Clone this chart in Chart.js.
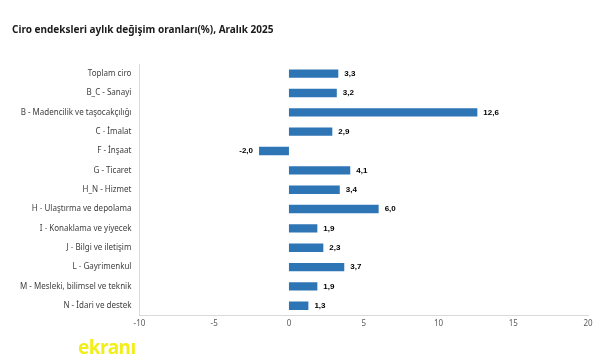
<!DOCTYPE html>
<html>
<head>
<meta charset="utf-8">
<script src="https://cdn.jsdelivr.net/npm/chart.js@4"></script>
<style>
  html, body { margin: 0; padding: 0; background: #fff; }
  #wrap { position: relative; width: 601px; height: 363px; }
  #logo { position: absolute; left: 78px; top: 338px; font: bold 19px 'Noto Sans', sans-serif; color: #f2ee1a; letter-spacing: -0.5px; line-height: 1; }
</style>
</head>
<body>
<div id="wrap">
  <canvas id="chart" width="601" height="363"></canvas>
  <div id="logo">ekranı</div>
</div>
<script>
const categories = [
  'Toplam ciro',
  'B_C - Sanayi',
  'B - Madencilik ve taşocakçılığı',
  'C - İmalat',
  'F - İnşaat',
  'G - Ticaret',
  'H_N - Hizmet',
  'H - Ulaştırma ve depolama',
  'I - Konaklama ve yiyecek',
  'J - Bilgi ve iletişim',
  'L - Gayrimenkul',
  'M - Mesleki, bilimsel ve teknik',
  'N - İdari ve destek'
];
const values = [3.3, 3.2, 12.6, 2.9, -2.0, 4.1, 3.4, 6.0, 1.9, 2.3, 3.7, 1.9, 1.3];
const xMin = -10;
const xMax = 20;
const xStep = 5;

// draws the value next to each bar, comma as decimal mark
const valueLabels = {
  id: 'valueLabels',
  afterDatasetsDraw(chart) {
    const ctx = chart.ctx;
    const meta = chart.getDatasetMeta(0);
    ctx.save();
    ctx.font = 'bold 8px "Liberation Sans", Arial, sans-serif';
    ctx.fillStyle = '#000';
    ctx.textBaseline = 'middle';
    meta.data.forEach((bar, i) => {
      const v = values[i];
      const txt = v.toFixed(1).replace('.', ',');
      if (v >= 0) {
        ctx.textAlign = 'left';
        ctx.fillText(txt, bar.x + 6, bar.y);
      } else {
        ctx.textAlign = 'right';
        ctx.fillText(txt, bar.x - 6, bar.y);
      }
    });
    ctx.restore();
  }
};

new Chart(document.getElementById('chart'), {
  type: 'bar',
  data: {
    labels: categories,
    datasets: [{
      data: values,
      backgroundColor: '#2e75b6',
      barPercentage: 0.6,
      categoryPercentage: 0.72
    }]
  },
  options: {
    indexAxis: 'y',
    responsive: false,
    animation: false,
    layout: { padding: { left: 12, right: 13, top: 0, bottom: 30 } },
    plugins: {
      legend: { display: false },
      tooltip: { enabled: false },
      title: {
        display: true,
        text: 'Ciro endeksleri aylık değişim oranları(%), Aralık 2025',
        align: 'start',
        color: '#1a1a1a',
        font: { family: "'Noto Sans', sans-serif", size: 10, weight: 'bold' },
        padding: { top: 24, bottom: 28 }
      }
    },
    scales: {
      x: {
        min: xMin,
        max: xMax,
        ticks: {
          stepSize: xStep,
          color: '#595959',
          font: { family: "'Noto Sans', sans-serif", size: 8 },
          padding: 4
        },
        grid: { display: false, drawTicks: false },
        border: { display: true, color: '#d9d9d9' }
      },
      y: {
        ticks: {
          color: '#404040',
          font: { family: "'Noto Sans', sans-serif", size: 8 },
          padding: 8,
          autoSkip: false
        },
        grid: { display: false, drawTicks: false },
        border: { display: true, color: '#d9d9d9' }
      }
    }
  },
  plugins: [valueLabels]
});
</script>
</body>
</html>
